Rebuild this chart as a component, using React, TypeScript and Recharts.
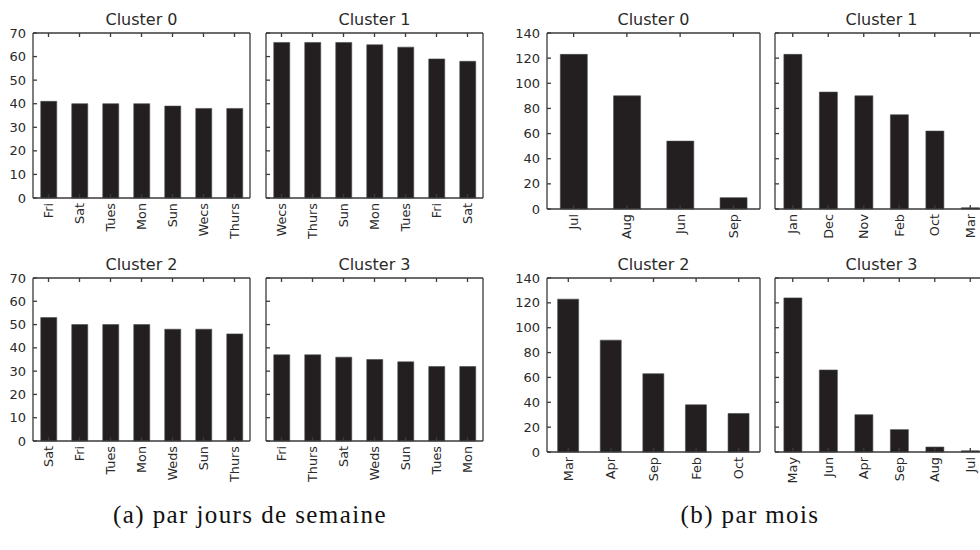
import React from 'react';
import { BarChart, Bar, XAxis, YAxis } from 'recharts';

// (a) par jours de semaine
const dayCats0 = ['Fri', 'Sat', 'Tues', 'Mon', 'Sun', 'Wecs', 'Thurs'];
const dayVals0 = [41, 40, 40, 40, 39, 38, 38];
const dayCats1 = ['Wecs', 'Thurs', 'Sun', 'Mon', 'Tues', 'Fri', 'Sat'];
const dayVals1 = [66, 66, 66, 65, 64, 59, 58];
const dayCats2 = ['Sat', 'Fri', 'Tues', 'Mon', 'Weds', 'Sun', 'Thurs'];
const dayVals2 = [53, 50, 50, 50, 48, 48, 46];
const dayCats3 = ['Fri', 'Thurs', 'Sat', 'Weds', 'Sun', 'Tues', 'Mon'];
const dayVals3 = [37, 37, 36, 35, 34, 32, 32];
const dayTicks = [0, 10, 20, 30, 40, 50, 60, 70];

// (b) par mois
const monCats0 = ['Jul', 'Aug', 'Jun', 'Sep'];
const monVals0 = [123, 90, 54, 9];
const monCats1 = ['Jan', 'Dec', 'Nov', 'Feb', 'Oct', 'Mar'];
const monVals1 = [123, 93, 90, 75, 62, 1];
const monCats2 = ['Mar', 'Apr', 'Sep', 'Feb', 'Oct'];
const monVals2 = [123, 90, 63, 38, 31];
const monCats3 = ['May', 'Jun', 'Apr', 'Sep', 'Aug', 'Jul'];
const monVals3 = [124, 66, 30, 18, 4, 1];
const monTicks = [0, 20, 40, 60, 80, 100, 120, 140];

const titles = ['Cluster 0', 'Cluster 1', 'Cluster 2', 'Cluster 3'];
const captions = ['(a) par jours de semaine', '(b) par mois'];

const BAR = '#231f20';
const AX = '#3a3a3a';
const TXT = '#2a2a2a';
const FONT = 'DejaVu Sans';

const RotTick = (props: any) => {
  const { x, y, payload } = props;
  return (
    <text
      x={x}
      y={y}
      dy="0.36em"
      transform={`rotate(-90, ${x}, ${y})`}
      textAnchor="end"
      fontSize={12.8}
      fill={TXT}
      fontFamily={FONT}
    >
      {payload.value}
    </text>
  );
};

const EmptyTick = () => <g />;

type PanelProps = {
  title: string;
  cats: string[];
  vals: number[];
  left: number;
  top: number;
  w: number;
  h: number;
  yMax: number;
  yTicks: number[];
  showY: boolean;
};

function Panel({ title, cats, vals, left, top, w, h, yMax, yTicks, showY }: PanelProps) {
  const data = cats.map((c, i) => ({ name: c, value: vals[i] }));
  const leftW = showY ? 40 : 1;
  const topH = 1;
  const rightW = 1;
  const bottomH = 50;
  const mTop = 10;
  const axisStyle = { stroke: AX, strokeWidth: 1.3 };
  return (
    <>
      <div
        style={{
          position: 'absolute',
          left,
          top: top - 23,
          width: w,
          textAlign: 'center',
          fontFamily: FONT,
          fontSize: 16,
          lineHeight: '20px',
          color: TXT,
        }}
      >
        {title}
      </div>
      <div style={{ position: 'absolute', left: left - leftW, top: top - topH - mTop }}>
        <BarChart
          width={leftW + w + rightW}
          height={mTop + topH + h + bottomH}
          data={data}
          margin={{ top: mTop, right: 0, bottom: 0, left: 0 }}
          barCategoryGap="25%"
        >
          <XAxis
            dataKey="name"
            xAxisId="b"
            orientation="bottom"
            height={bottomH}
            interval={0}
            tick={<RotTick />}
            tickSize={-4}
            tickMargin={9}
            axisLine={axisStyle}
            tickLine={axisStyle}
          />
          <XAxis
            dataKey="name"
            xAxisId="t"
            orientation="top"
            height={topH}
            interval={0}
            tick={<EmptyTick />}
            tickSize={-4}
            axisLine={axisStyle}
            tickLine={axisStyle}
          />
          <YAxis
            yAxisId="l"
            orientation="left"
            type="number"
            domain={[0, yMax]}
            ticks={yTicks}
            interval={0}
            width={leftW}
            tick={showY ? { fontSize: 13, fill: TXT, fontFamily: FONT } : <EmptyTick />}
            tickSize={-4}
            tickMargin={11}
            axisLine={axisStyle}
            tickLine={axisStyle}
          />
          <YAxis
            yAxisId="r"
            orientation="right"
            type="number"
            domain={[0, yMax]}
            ticks={yTicks}
            interval={0}
            width={rightW}
            tick={<EmptyTick />}
            tickSize={-4}
            axisLine={axisStyle}
            tickLine={axisStyle}
          />
          <Bar
            dataKey="value"
            xAxisId="b"
            yAxisId="l"
            fill={BAR}
            stroke="#4a4a4a"
            strokeWidth={0.6}
            isAnimationActive={false}
          />
        </BarChart>
      </div>
    </>
  );
}

export default function App() {
  return (
    <div
      style={{
        position: 'absolute',
        left: 0,
        top: 0,
        width: 980,
        height: 550,
        overflow: 'hidden',
        background: '#fff',
      }}
    >
      <Panel title={titles[0]} cats={dayCats0} vals={dayVals0} left={33} top={33} w={217} h={165} yMax={70} yTicks={dayTicks} showY />
      <Panel title={titles[1]} cats={dayCats1} vals={dayVals1} left={266} top={33} w={217} h={165} yMax={70} yTicks={dayTicks} showY={false} />
      <Panel title={titles[2]} cats={dayCats2} vals={dayVals2} left={33} top={278} w={217} h={163} yMax={70} yTicks={dayTicks} showY />
      <Panel title={titles[3]} cats={dayCats3} vals={dayVals3} left={266} top={278} w={217} h={163} yMax={70} yTicks={dayTicks} showY={false} />

      <Panel title={titles[0]} cats={monCats0} vals={monVals0} left={547} top={33} w={213} h={176} yMax={140} yTicks={monTicks} showY />
      <Panel title={titles[1]} cats={monCats1} vals={monVals1} left={775} top={33} w={213} h={176} yMax={140} yTicks={monTicks} showY={false} />
      <Panel title={titles[2]} cats={monCats2} vals={monVals2} left={547} top={278} w={213} h={174} yMax={140} yTicks={monTicks} showY />
      <Panel title={titles[3]} cats={monCats3} vals={monVals3} left={775} top={278} w={213} h={174} yMax={140} yTicks={monTicks} showY={false} />

      <div
        style={{
          position: 'absolute',
          left: 100,
          top: 500,
          width: 300,
          textAlign: 'center',
          fontFamily: 'Liberation Serif',
          fontSize: 25,
          letterSpacing: 1.4,
          lineHeight: '30px',
          color: '#111',
        }}
      >
        {captions[0]}
      </div>
      <div
        style={{
          position: 'absolute',
          left: 600,
          top: 500,
          width: 300,
          textAlign: 'center',
          fontFamily: 'Liberation Serif',
          fontSize: 25,
          letterSpacing: 1.4,
          lineHeight: '30px',
          color: '#111',
        }}
      >
        {captions[1]}
      </div>
    </div>
  );
}
